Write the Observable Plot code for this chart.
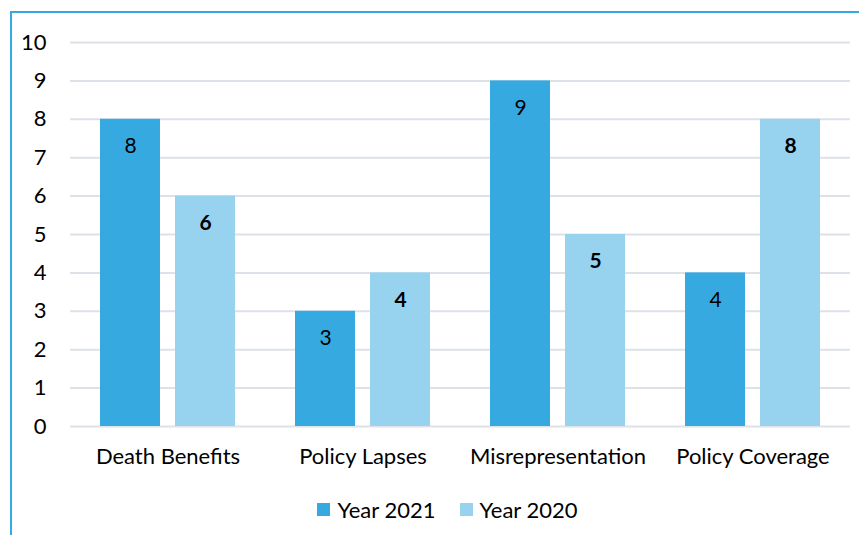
<!DOCTYPE html>
<html>
<head>
<meta charset="utf-8">
<script src="https://cdn.jsdelivr.net/npm/d3@7"></script>
<script src="https://cdn.jsdelivr.net/npm/@observablehq/plot@0.6"></script>
<style>
  html, body { margin: 0; padding: 0; background: #fff; }
  #wrap { position: relative; width: 859px; height: 535px; overflow: hidden; font-family: Lato, "Open Sans", sans-serif; }
  #frame { position: absolute; left: 10px; top: 11px; width: 900px; height: 600px; border-top: 2px solid #36A9E0; border-left: 2px solid #36A9E0; box-sizing: border-box; pointer-events: none; }
  #chart { position: absolute; left: 0; top: 0; }
  #legend { position: absolute; left: 0; top: 480px; width: 859px; height: 58px; display: flex; justify-content: center; align-items: center; gap: 24px; font-size: 22px; color: #000; padding-left: 36px; box-sizing: border-box; }
  .item { display: flex; align-items: center; gap: 7px; }
  .sw { width: 13px; height: 13px; display: inline-block; }
</style>
</head>
<body>
<div id="wrap">
  <div id="chart"></div>
  <div id="frame"></div>
  <div id="legend"></div>
</div>
<script>
const categories = ["Death Benefits", "Policy Lapses", "Misrepresentation", "Policy Coverage"];
const seriesNames = ["Year 2021", "Year 2020"];
const values2021 = [8, 3, 9, 4];
const values2020 = [6, 4, 5, 8];
const seriesColors = ["#36A9E0", "#97D3EF"];
const yTicks = [0, 1, 2, 3, 4, 5, 6, 7, 8, 9, 10];

const data = [];
categories.forEach((c, i) => {
  data.push({category: c, series: seriesNames[0], value: values2021[i]});
  data.push({category: c, series: seriesNames[1], value: values2020[i]});
});

const chart = Plot.plot({
  width: 859,
  height: 480,
  marginLeft: 69,
  marginRight: 9,
  marginTop: 42,
  marginBottom: 54,
  style: {fontFamily: "Lato, 'Open Sans', sans-serif", fontSize: "22px", color: "#000", background: "transparent"},
  fx: {domain: categories, padding: 0, label: null},
  x: {domain: seriesNames, paddingInner: 0.2, paddingOuter: 0.4, axis: null},
  y: {domain: [0, 10], label: null},
  color: {domain: seriesNames, range: seriesColors},
  marks: [
    Plot.gridY(yTicks, {stroke: "#DDE2E9", strokeOpacity: 1, strokeWidth: 2}),
    Plot.barY(data, {fx: "category", x: "series", y: "value", fill: "series"}),
    Plot.text(data.filter(d => d.series === seriesNames[0]), {fx: "category", x: "series", y: "value", text: d => String(d.value), dy: 27, fontSize: 21, fill: "#000"}),
    Plot.text(data.filter(d => d.series === seriesNames[1]), {fx: "category", x: "series", y: "value", text: d => String(d.value), dy: 27, fontSize: 21, fontWeight: "bold", fill: "#000"}),
    Plot.axisY(yTicks, {tickSize: 0, tickPadding: 24, fontSize: 22, label: null}),
    Plot.axisFx({anchor: "bottom", tickSize: 0, tickPadding: 22, fontSize: 22, label: null})
  ]
});
document.getElementById("chart").appendChild(chart);

const legend = document.getElementById("legend");
seriesNames.forEach((s, i) => {
  const item = document.createElement("div");
  item.className = "item";
  const sw = document.createElement("span");
  sw.className = "sw";
  sw.style.background = seriesColors[i];
  const lab = document.createElement("span");
  lab.textContent = s;
  item.appendChild(sw);
  item.appendChild(lab);
  legend.appendChild(item);
});
</script>
</body>
</html>
